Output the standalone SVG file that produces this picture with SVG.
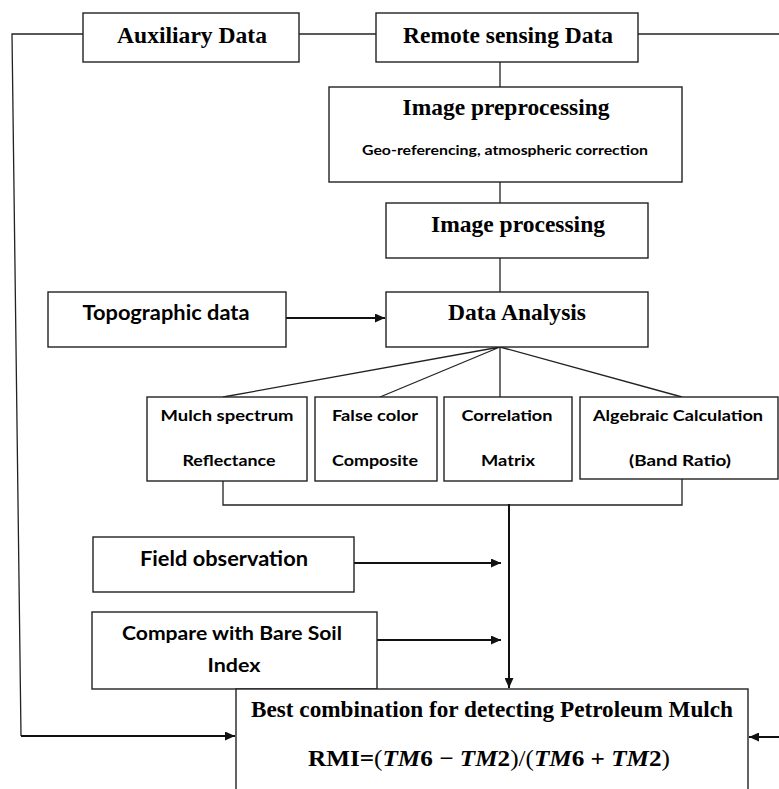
<svg xmlns="http://www.w3.org/2000/svg" width="779" height="789" viewBox="0 0 779 789">
<defs>
<style>
.box{fill:#fff;stroke:#222;stroke-width:1.4}
.ln{fill:none;stroke:#222;stroke-width:1.3}
.th{fill:none;stroke:#111;stroke-width:2}
.serif{font-family:"Liberation Serif","Times New Roman",serif;font-weight:bold;font-size:23px;text-anchor:middle;fill:#000}
.sans{font-family:Lato,"Liberation Sans",sans-serif;font-weight:bold;text-anchor:middle;fill:#000}
</style>
<marker id="ah" markerUnits="userSpaceOnUse" markerWidth="11" markerHeight="9" refX="10" refY="4.5" orient="auto">
<path d="M0,0 L10,4.5 L0,9 z" fill="#111"/>
</marker>
</defs>
<rect width="779" height="789" fill="#fff"/>
<g id="connectors">
<path class="ln" d="M299,34 H376"/>
<path class="ln" d="M83,34 H12 L21,736"/>
<path class="th" d="M21,736 H235" marker-end="url(#ah)"/>
<path class="ln" d="M638,34 H779"/>
<path class="th" d="M779,737 H749" marker-end="url(#ah)"/>
<path class="ln" d="M500,62 V87"/>
<path class="ln" d="M500,182 V203"/>
<path class="ln" d="M500,258 V292"/>
<path class="th" d="M286,318 H385" marker-end="url(#ah)"/>
<path class="ln" d="M500,347 L223,397 M500,347 L380,397 M500,347 V397 M500,347 L682,397"/>
<path class="ln" d="M223,481 V505 H682 V479"/>
<path class="th" d="M509,504 V688" marker-end="url(#ah)"/>
<path class="th" d="M354,563 H501" stroke-width="3" marker-end="url(#ah)"/>
<path class="th" d="M377,640 H501" marker-end="url(#ah)"/>
</g>
<g id="auxiliary">
<rect class="box" x="83" y="13" width="216" height="49"/>
<text class="serif" x="192" y="43" textLength="150" lengthAdjust="spacingAndGlyphs">Auxiliary Data</text>
</g>
<g id="remote">
<rect class="box" x="376" y="13" width="262" height="49"/>
<text class="serif" x="508" y="43" textLength="210" lengthAdjust="spacingAndGlyphs">Remote sensing Data</text>
</g>
<g id="preprocessing">
<rect class="box" x="329" y="87" width="353" height="95"/>
<text class="serif" x="506" y="115" textLength="207" lengthAdjust="spacingAndGlyphs">Image preprocessing</text>
<text class="sans" x="505" y="155" font-size="13" textLength="286" lengthAdjust="spacingAndGlyphs">Geo-referencing, atmospheric correction</text>
</g>
<g id="processing">
<rect class="box" x="386" y="203" width="262" height="55"/>
<text class="serif" x="518" y="232" textLength="174" lengthAdjust="spacingAndGlyphs">Image processing</text>
</g>
<g id="analysis">
<rect class="box" x="386" y="292" width="262" height="55"/>
<text class="serif" x="517" y="320" textLength="138" lengthAdjust="spacingAndGlyphs">Data Analysis</text>
</g>
<g id="topographic">
<rect class="box" x="48" y="292" width="238" height="55"/>
<text class="sans" x="166" y="320" font-size="20" textLength="167" lengthAdjust="spacingAndGlyphs">Topographic data</text>
</g>
<g id="mulch">
<rect class="box" x="147" y="397" width="160" height="84"/>
<text class="sans" x="227" y="421" font-size="16" textLength="133" lengthAdjust="spacingAndGlyphs">Mulch spectrum</text>
<text class="sans" x="229" y="466" font-size="16" textLength="93" lengthAdjust="spacingAndGlyphs">Reflectance</text>
</g>
<g id="falsecolor">
<rect class="box" x="315" y="397" width="122" height="84"/>
<text class="sans" x="375" y="421" font-size="16" textLength="86" lengthAdjust="spacingAndGlyphs">False color</text>
<text class="sans" x="375" y="466" font-size="16" textLength="86" lengthAdjust="spacingAndGlyphs">Composite</text>
</g>
<g id="correlation">
<rect class="box" x="444" y="397" width="128" height="84"/>
<text class="sans" x="507" y="421" font-size="16" textLength="91" lengthAdjust="spacingAndGlyphs">Correlation</text>
<text class="sans" x="508" y="466" font-size="16" textLength="54" lengthAdjust="spacingAndGlyphs">Matrix</text>
</g>
<g id="algebraic">
<rect class="box" x="580" y="397" width="198" height="82"/>
<text class="sans" x="678" y="421" font-size="16" textLength="170" lengthAdjust="spacingAndGlyphs">Algebraic Calculation</text>
<text class="sans" x="680" y="466" font-size="16" textLength="102" lengthAdjust="spacingAndGlyphs">(Band Ratio)</text>
</g>
<g id="field">
<rect class="box" x="93" y="537" width="261" height="55"/>
<text class="sans" x="224" y="566" font-size="20" textLength="168" lengthAdjust="spacingAndGlyphs">Field observation</text>
</g>
<g id="compare">
<rect class="box" x="92" y="612" width="285" height="77"/>
<text class="sans" x="232" y="640" font-size="18" textLength="220" lengthAdjust="spacingAndGlyphs">Compare with Bare Soil</text>
<text class="sans" x="234" y="672" font-size="18" textLength="53" lengthAdjust="spacingAndGlyphs">Index</text>
</g>
<g id="best">
<rect class="box" x="236" y="689" width="512" height="120"/>
<text class="serif" x="492" y="717" textLength="482" lengthAdjust="spacingAndGlyphs">Best combination for detecting Petroleum Mulch</text>
<text x="308" y="766" font-family="'Liberation Serif','Times New Roman',serif" font-size="23" font-weight="bold" textLength="362" lengthAdjust="spacingAndGlyphs">RMI=<tspan font-weight="normal">(</tspan><tspan font-style="italic">TM</tspan>6 − <tspan font-style="italic">TM</tspan>2<tspan font-weight="normal">)/(</tspan><tspan font-style="italic">TM</tspan>6 + <tspan font-style="italic">TM</tspan>2<tspan font-weight="normal">)</tspan></text>
</g>
</svg>
